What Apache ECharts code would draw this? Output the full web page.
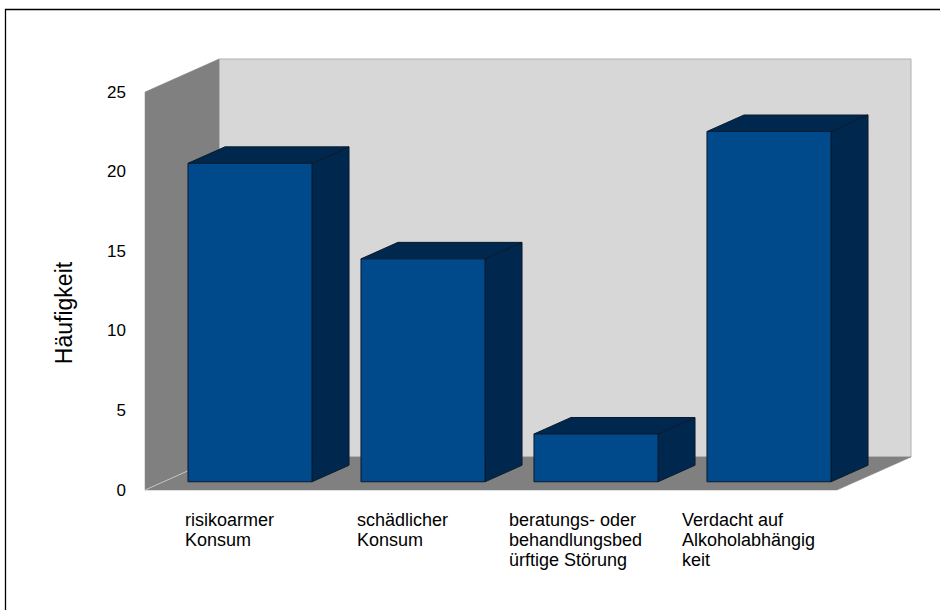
<!DOCTYPE html>
<html>
<head>
<meta charset="utf-8">
<script src="https://cdn.jsdelivr.net/npm/echarts@6/dist/echarts.min.js"></script>
<style>
html,body{margin:0;padding:0;background:#fff;}
#chart{width:940px;height:610px;}
</style>
</head>
<body>
<div id="chart"></div>
<script>
// ---- data ----
const categories = [
  'risikoarmer\nKonsum',
  'schädlicher\nKonsum',
  'beratungs- oder\nbehandlungsbed\nürftige Störung',
  'Verdacht auf\nAlkoholabhängig\nkeit'
];
const values = [20, 14, 3, 22];
const yAxisTitle = 'Häufigkeit';
const yMin = 0, yMax = 25, yStep = 5;

// ---- style constants ----
const FONT = '"Liberation Sans", Arial, sans-serif';
const DX = 74, DY = -33;          // 3D depth vector
const BAR_FRAC = 0.717;
const C_FRONT = '#004a8c', C_DARK = '#00284f', C_EDGE = '#0b1a2c';
const C_BACK = '#d7d7d7', C_WALL = '#808080';
const LABEL_FONT = '18px ' + FONT;

const measureCtx = document.createElement('canvas').getContext('2d');
measureCtx.font = LABEL_FONT;

const chart = echarts.init(document.getElementById('chart'), null, {renderer: 'svg'});

const option = {
  backgroundColor: '#fff',
  animation: false,
  grid: {left: 145, top: 92, right: 103, bottom: 120},
  xAxis: {
    type: 'category',
    data: categories,
    axisLine: {show: false}, axisTick: {show: false}, axisLabel: {show: false},
    splitLine: {show: false}
  },
  yAxis: {
    type: 'value', min: yMin, max: yMax, interval: yStep,
    axisLine: {show: false}, axisTick: {show: false}, splitLine: {show: false},
    axisLabel: {color: '#000', fontSize: 17, fontFamily: FONT, margin: 19}
  },
  graphic: [
    {type: 'rect', shape: {x: 5.5, y: 9.5, width: 960, height: 640}, style: {fill: 'none', stroke: '#000', lineWidth: 1.3}, z: 100},
    {type: 'text', x: 64, y: 313, rotation: Math.PI / 2,
     style: {text: yAxisTitle, font: '23px ' + FONT, fill: '#000', align: 'center', verticalAlign: 'middle'}}
  ],
  series: [
    {
      type: 'custom', name: 'walls', silent: true, clip: false, z: 1,
      data: [[0, 0]],
      renderItem: function (params, api) {
        const cs = params.coordSys;
        const x0 = cs.x, y0 = cs.y, x1 = cs.x + cs.width, yb = cs.y + cs.height;
        return {type: 'group', children: [
          {type: 'rect', shape: {x: x0 + DX, y: y0 + DY, width: x1 - x0, height: yb - y0},
           style: {fill: C_BACK, stroke: '#b0b0b0', lineWidth: 1}},
          {type: 'polygon', shape: {points: [[x0, y0], [x0 + DX, y0 + DY], [x0 + DX, yb + DY], [x0, yb]]},
           style: {fill: C_WALL, stroke: C_WALL, lineWidth: 0.5}},
          {type: 'polygon', shape: {points: [[x0, yb], [x1, yb], [x1 + DX, yb + DY], [x0 + DX, yb + DY]]},
           style: {fill: C_WALL, stroke: C_WALL, lineWidth: 0.5}},
          {type: 'line', shape: {x1: x0, y1: yb, x2: x0 + DX, y2: yb + DY},
           style: {stroke: '#c4c4c4', lineWidth: 1}}
        ]};
      }
    },
    {
      type: 'custom', name: 'Häufigkeit', clip: false, z: 2,
      data: values.map((v, i) => [i, v]),
      renderItem: function (params, api) {
        const i = api.value(0), v = api.value(1);
        const p0 = api.coord([i, 0]), p1 = api.coord([i, v]);
        const w = api.size([1, 0])[0] * BAR_FRAC;
        const x1 = p0[0] - w / 2 + DX * 0.25, x2 = x1 + w;
        const yb = p0[1] + DY * 0.25, yt = p1[1] + DY * 0.25;
        const bx = DX * 0.5, by = DY * 0.5;
        const st = (f) => ({fill: f, stroke: C_EDGE, lineWidth: 1});
        return {type: 'group', children: [
          {type: 'polygon', shape: {points: [[x2, yt], [x2 + bx, yt + by], [x2 + bx, yb + by], [x2, yb]]}, style: st(C_DARK)},
          {type: 'polygon', shape: {points: [[x1, yt], [x2, yt], [x2 + bx, yt + by], [x1 + bx, yt + by]]}, style: st(C_DARK)},
          {type: 'rect', shape: {x: x1, y: yt, width: w, height: yb - yt}, style: st(C_FRONT)}
        ]};
      }
    },
    {
      type: 'custom', name: 'labels', silent: true, clip: false, z: 3,
      data: categories.map((c, i) => [i, 0]),
      renderItem: function (params, api) {
        const i = api.value(0);
        const p = api.coord([i, 0]);
        const lines = categories[i].split('\n');
        let mw = 0;
        lines.forEach(l => { mw = Math.max(mw, measureCtx.measureText(l).width); });
        return {type: 'text', x: p[0] - mw / 2 - 2, y: p[1] + 20,
          style: {text: categories[i], font: LABEL_FONT, fill: '#000', align: 'left', verticalAlign: 'top', lineHeight: 20}};
      }
    }
  ]
};
chart.setOption(option);
</script>
</body>
</html>
